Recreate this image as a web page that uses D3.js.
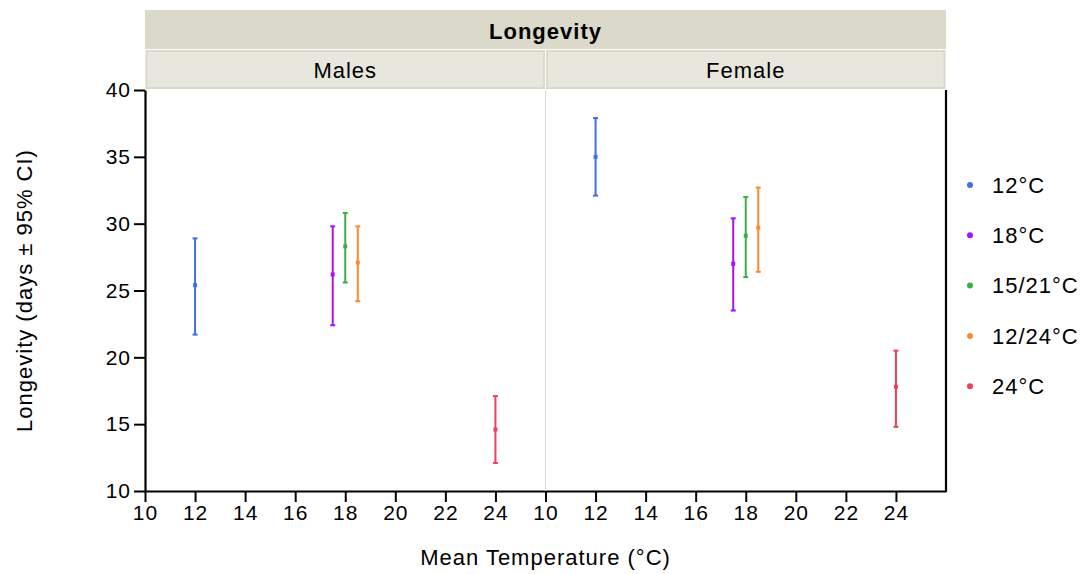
<!DOCTYPE html>
<html>
<head>
<meta charset="utf-8">
<script src="https://cdn.jsdelivr.net/npm/d3@7"></script>
<style>
  body { margin: 0; background: #fff; }
  text { font-family: "Liberation Sans", Arial, sans-serif; fill: #000; letter-spacing: 1px; }
</style>
</head>
<body>
<svg id="chart" width="1083" height="574"></svg>
<script>
// panels + groups
var panels = ["Males", "Female"];
var groups = ["12°C", "18°C", "15/21°C", "12/24°C", "24°C"];
var colors = ["#3f6fe0", "#a412f5", "#3cae48", "#fb8a2e", "#f23d5b"];
var temps = [12, 17.5, 18, 18.5, 24];

// means and 95% CI bounds, per panel, in group order
var meanMales = [25.4, 26.2, 28.3, 27.1, 14.6];
var lowMales = [21.7, 22.4, 25.6, 24.2, 12.1];
var highMales = [28.9, 29.8, 30.8, 29.8, 17.1];

var meanFemale = [35.0, 27.0, 29.1, 29.7, 17.8];
var lowFemale = [32.1, 23.5, 26.0, 26.4, 14.8];
var highFemale = [37.9, 30.4, 32.0, 32.7, 20.5];

var xTicks = [10, 12, 14, 16, 18, 20, 22, 24];
var yTicks = [10, 15, 20, 25, 30, 35, 40];

var svg = d3.select("#chart"),
    margin = {top: 90, left: 145, right: 137, bottom: 83},
    width = 1083 - margin.left - margin.right,
    height = 574 - margin.top - margin.bottom,
    panelW = width / 2;

var g = svg.append("g").attr("transform", "translate(" + margin.left + "," + margin.top + ")");

var x = d3.scaleLinear().domain([10, 26]).range([0, panelW]);
var y = d3.scaleLinear().domain([10, 40]).range([height, 0]);

// header strips
g.append("rect")
    .attr("x", 0).attr("y", -80).attr("width", width).attr("height", 39)
    .attr("fill", "#dbd9ca");
g.append("text")
    .attr("x", width / 2).attr("y", -51)
    .attr("text-anchor", "middle")
    .style("font-size", "22px").style("font-weight", "bold")
    .text("Longevity");

var data = [
  {name: "Males", mean: meanMales, low: lowMales, high: highMales},
  {name: "Female", mean: meanFemale, low: lowFemale, high: highFemale}
];

data.forEach(function(p, i) {
    var pg = g.append("g").attr("transform", "translate(" + (i * panelW) + ",0)");

    pg.append("rect")
        .attr("x", 1.5).attr("y", -39).attr("width", panelW - 3).attr("height", 37)
        .attr("fill", "#e7e7de").attr("stroke", "#dbd9ca").attr("stroke-width", 2);
    pg.append("text")
        .attr("x", panelW / 2).attr("y", -12)
        .attr("text-anchor", "middle")
        .style("font-size", "22px")
        .text(p.name);

    var pts = groups.map(function(gr, j) {
        return {t: temps[j], m: p.mean[j], lo: p.low[j], hi: p.high[j], c: colors[j]};
    });

    var bars = pg.selectAll("g.bar").data(pts).enter().append("g").attr("class", "bar");
    bars.append("line")
        .attr("x1", function(d) { return x(d.t); })
        .attr("x2", function(d) { return x(d.t); })
        .attr("y1", function(d) { return y(d.lo); })
        .attr("y2", function(d) { return y(d.hi); })
        .attr("stroke", function(d) { return d.c; })
        .attr("stroke-width", 2);
    bars.selectAll("line.cap")
        .data(function(d) { return [d.lo, d.hi].map(function(v) { return {v: v, t: d.t, c: d.c}; }); })
        .enter().append("line")
        .attr("class", "cap")
        .attr("x1", function(d) { return x(d.t) - 2.5; })
        .attr("x2", function(d) { return x(d.t) + 2.5; })
        .attr("y1", function(d) { return y(d.v); })
        .attr("y2", function(d) { return y(d.v); })
        .attr("stroke", function(d) { return d.c; })
        .attr("stroke-width", 2);
    bars.append("rect")
        .attr("x", function(d) { return x(d.t) - 2; })
        .attr("y", function(d) { return y(d.m) - 2; })
        .attr("width", 4).attr("height", 4)
        .attr("fill", function(d) { return d.c; });

    var xa = pg.append("g")
        .attr("class", "axis axis--x")
        .attr("transform", "translate(0," + height + ")")
        .call(d3.axisBottom(x).tickValues(xTicks).tickSize(11).tickSizeOuter(0).tickPadding(3));
    xa.select(".domain").attr("stroke-width", 2.2);
    xa.selectAll(".tick line").attr("stroke-width", 2);
    xa.selectAll("text").style("font-size", "21px");
});

// panel divider
g.append("line")
    .attr("x1", panelW).attr("x2", panelW).attr("y1", 0).attr("y2", height)
    .attr("stroke", "#d8d8d8").attr("stroke-width", 1);

// right border
g.append("line")
    .attr("x1", width).attr("x2", width).attr("y1", 0).attr("y2", height + 1)
    .attr("stroke", "#000").attr("stroke-width", 2.2);

var ya = g.append("g")
    .attr("class", "axis axis--y")
    .call(d3.axisLeft(y).tickValues(yTicks).tickSize(11).tickSizeOuter(0).tickPadding(3));
ya.select(".domain").attr("stroke-width", 2.2);
ya.selectAll(".tick line").attr("stroke-width", 2);
ya.selectAll("text").style("font-size", "21px");

// axis titles
svg.append("text")
    .attr("x", margin.left + width / 2).attr("y", 565)
    .attr("text-anchor", "middle")
    .style("font-size", "22px")
    .text("Mean Temperature (°C)");
svg.append("text")
    .attr("transform", "translate(32," + (margin.top + height / 2) + ") rotate(-90)")
    .attr("text-anchor", "middle")
    .style("font-size", "22px")
    .text("Longevity (days ± 95% CI)");

// legend
var legend = svg.append("g").attr("transform", "translate(970,185)");
var li = legend.selectAll("g").data(groups).enter().append("g")
    .attr("transform", function(d, i) { return "translate(0," + (i * 50.3) + ")"; });
li.append("circle")
    .attr("r", 3)
    .attr("fill", function(d, i) { return colors[i]; });
li.append("text")
    .attr("x", 22).attr("dy", "0.35em")
    .style("font-size", "22px")
    .text(function(d) { return d; });
</script>
</body>
</html>
